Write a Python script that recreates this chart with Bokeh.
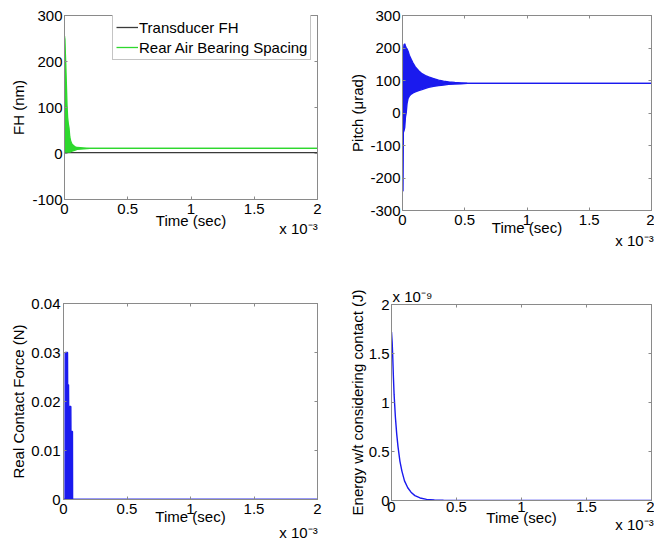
from bokeh.plotting import figure
from bokeh.layouts import column, row
from bokeh.models import (Range1d, FixedTicker, LinearAxis, Legend, LegendItem,
                          CustomJSTickFormatter)
from bokeh.embed import file_html
from bokeh.resources import INLINE

FONT = "Liberation Sans"
AX = "#8a8a8a"
BLUE = "#1a1aee"
GREEN = "#2ed82e"
DARK = "#3a3a3a"

# ---------------- data (time in units of 1e-3 s) ----------------
time_ticks = [0, 0.5, 1, 1.5, 2]
time_tick_labels = ["0", "0.5", "1", "1.5", "2"]
time_multiplier = "x 10\u207b\u00b3"

fh_ticks = [-100, 0, 100, 200, 300]
fh_tick_labels = ["-100", "0", "100", "200", "300"]
transducer_time = [0.0, 0.5, 1.0, 1.5, 2.0]
transducer_fh = [2, 2, 2, 2, 2]
rear_time = [0.000, 0.003, 0.006, 0.010, 0.015, 0.020, 0.025, 0.030, 0.036, 0.042,
             0.050, 0.060, 0.080, 0.100, 0.150, 0.200, 0.500, 1.000, 1.500, 2.000]
rear_upper = [255, 248, 225, 195, 150, 105, 78, 65, 55, 36,
              26, 20, 15, 13, 12, 11, 11, 11, 11, 11]
rear_lower = [250, 6, 3, 3, 3, 3, 3, 3, 3, 3,
              4, 5, 7, 9, 10, 11, 11, 11, 11, 11]

pitch_ticks = [-300, -200, -100, 0, 100, 200, 300]
pitch_tick_labels = ["-300", "-200", "-100", "0", "100", "200", "300"]
pitch_time = [0.000, 0.002, 0.004, 0.007, 0.012, 0.018, 0.024, 0.030, 0.037, 0.045,
              0.055, 0.070, 0.085, 0.103, 0.130, 0.156, 0.185, 0.210, 0.250, 0.290,
              0.330, 0.370, 0.420, 0.470, 0.520, 1.000, 1.500, 2.000]
pitch_upper = [70, 70, 120, 190, 210, 213, 206, 200, 197, 190,
               178, 165, 154, 142, 130, 121, 115, 111, 106, 101,
               98, 96, 94, 93, 92, 91, 91, 91]
pitch_lower = [70, -240, -240, -60, -55, -45, -12, 0, 30, 45,
               52, 58, 62, 65, 69, 72, 76, 79, 82, 84,
               86, 88, 89, 90, 91, 91, 91, 91]

force_ticks = [0, 0.01, 0.02, 0.03, 0.04]
force_tick_labels = ["0", "0.01", "0.02", "0.03", "0.04"]
force_time = [0.000, 0.012, 0.013, 0.032, 0.033, 0.040, 0.041, 0.058, 0.059, 0.071, 0.072, 2.000]
force_upper = [0, 0, 0.0300, 0.0300, 0.0234, 0.0234, 0.0190, 0.0190, 0.0139, 0.0139, 0, 0]
force_lower = [0, 0, 0, 0, 0, 0, 0, 0, 0, 0, 0, 0]

# energy in units of 1e-9 J
energy_ticks = [0, 0.5, 1, 1.5, 2]
energy_tick_labels = ["0", "0.5", "1", "1.5", "2"]
energy_multiplier = "x 10\u207b\u2079"
energy_time = [0.000, 0.005, 0.010, 0.015, 0.020, 0.030, 0.040, 0.050, 0.065, 0.080,
               0.100, 0.125, 0.150, 0.180, 0.220, 0.270, 0.330, 0.400, 0.500, 1.000,
               1.500, 2.000]
energy = [1.72, 1.62, 1.45, 1.25, 1.08, 0.85, 0.68, 0.55, 0.40, 0.30,
          0.20, 0.13, 0.085, 0.050, 0.026, 0.012, 0.005, 0.002, 0.0, 0.0,
          0.0, 0.0]


def style_axis(ax, ticks, labels, show_labels=True, standoff=2):
    ax.ticker = FixedTicker(ticks=ticks, minor_ticks=[])
    ax.major_tick_in = 3
    ax.major_tick_out = 0
    ax.minor_tick_in = 0
    ax.minor_tick_out = 0
    ax.axis_line_color = AX
    ax.major_tick_line_color = AX
    ax.major_label_text_font = FONT
    ax.major_label_text_color = "black"
    ax.major_label_standoff = standoff
    ax.axis_label_text_font = FONT
    ax.axis_label_text_font_style = "normal"
    ax.axis_label_text_font_size = "15px"
    ax.axis_label_text_color = "black"
    if show_labels:
        ax.major_label_overrides = {t: l for t, l in zip(ticks, labels)}
        ax.major_label_text_font_size = "15px"
    else:
        ax.major_label_overrides = {t: "" for t in ticks}
        ax.major_label_text_font_size = "0px"
        ax.major_label_standoff = 0


def make_fig(w, h, left, right, top, bottom, yr, yticks, ylabels, ylabel,
             x_std, x_lab_std, y_std, y_lab_std):
    p = figure(width=w, height=h, x_range=Range1d(0, 2), y_range=Range1d(*yr),
               min_border_left=left, min_border_right=right,
               min_border_top=top, min_border_bottom=bottom,
               output_backend="svg", toolbar_location=None,
               background_fill_color="white", border_fill_color="white",
               outline_line_color=AX, outline_line_width=1)
    p.xgrid.visible = False
    p.ygrid.visible = False
    style_axis(p.xaxis[0], time_ticks, time_tick_labels, True, x_std)
    p.xaxis[0].axis_label = "Time (sec)"
    p.xaxis[0].axis_label_standoff = x_lab_std
    style_axis(p.yaxis[0], yticks, ylabels, True, y_std)
    p.yaxis[0].axis_label = ylabel
    p.yaxis[0].axis_label_standoff = y_lab_std
    top_ax = LinearAxis()
    style_axis(top_ax, time_ticks, time_tick_labels, False)
    p.add_layout(top_ax, "above")
    right_ax = LinearAxis()
    style_axis(right_ax, yticks, ylabels, False)
    p.add_layout(right_ax, "right")
    return p


def multiplier_axis(p, side, text, frame_w, px_from_edge, standoff, edge="right"):
    """An extra, line-less axis carrying the MATLAB-style 'x 10^n' multiplier text."""
    per_px = 2.0 / frame_w
    pos = 2.0 - px_from_edge * per_px if edge == "right" else 0.0 + px_from_edge * per_px
    ax = LinearAxis(ticker=FixedTicker(ticks=[pos], minor_ticks=[]),
                    formatter=CustomJSTickFormatter(args=dict(t=text), code="return t"),
                    axis_line_color=None, major_tick_line_color=None,
                    minor_tick_line_color=None, major_tick_in=0, major_tick_out=0,
                    minor_tick_in=0, minor_tick_out=0,
                    major_label_standoff=standoff, major_label_text_font=FONT,
                    major_label_text_font_size="15px", major_label_text_color="black")
    p.add_layout(ax, side)


# ---------------- FH panel ----------------
p1 = make_fig(330, 270, 64, 13, 15, 71, (-100, 300), fh_ticks, fh_tick_labels,
              "FH (nm)", 4, -5, 2, 2)
r_trans = p1.line(transducer_time, transducer_fh, line_color=DARK, line_width=1.3)
p1.varea(x=rear_time, y1=rear_lower, y2=rear_upper, fill_color=GREEN)
r_rear = p1.line(rear_time, rear_upper, line_color=GREEN, line_width=1.3)
p1.line(rear_time, rear_lower, line_color=GREEN, line_width=1.3)
leg = Legend(items=[LegendItem(label="Transducer FH", renderers=[r_trans]),
                    LegendItem(label="Rear Air Bearing Spacing", renderers=[r_rear])],
             location=(48, 139), label_text_font=FONT, label_text_font_size="15px",
             label_text_color="black", glyph_width=22, glyph_height=18,
             label_height=18, label_standoff=1, padding=3, spacing=2, margin=0,
             border_line_color=AX, background_fill_color="white",
             background_fill_alpha=1)
p1.add_layout(leg)
multiplier_axis(p1, "below", time_multiplier, 253, 19, -12)

# ---------------- Pitch panel ----------------
p2 = make_fig(324, 270, 72, 3, 15, 60, (-300, 300), pitch_ticks, pitch_tick_labels,
              "Pitch (\u03bcrad)", 4, -9, 2, 1)
p2.varea(x=pitch_time, y1=pitch_lower, y2=pitch_upper, fill_color=BLUE)
p2.line(pitch_time, pitch_upper, line_color=BLUE, line_width=1.3)
p2.line(pitch_time, pitch_lower, line_color=BLUE, line_width=1.3)
multiplier_axis(p2, "below", time_multiplier, 249, 17, -7)

# ---------------- Contact force panel ----------------
p3 = make_fig(330, 273, 63, 13, 33, 44, (0, 0.04), force_ticks, force_tick_labels,
              "Real Contact Force (N)", 4, -9, 3, 1)
p3.varea(x=force_time, y1=force_lower, y2=force_upper, fill_color=BLUE)
p3.line(force_time, force_upper, line_color=BLUE, line_width=1.3)
p3.line(force_time, force_lower, line_color=BLUE, line_width=1.3)
multiplier_axis(p3, "below", time_multiplier, 254, 19, -4)

# ---------------- Energy panel ----------------
p4 = make_fig(324, 273, 61, 3, 34, 43, (0, 2), energy_ticks, energy_tick_labels,
              "Energy w/t considering contact (J)", 1, -6, 2, 0)
p4.line(energy_time, energy, line_color=BLUE, line_width=1.4)
multiplier_axis(p4, "below", time_multiplier, 260, 17, -13)
multiplier_axis(p4, "above", energy_multiplier, 260, 21, 0, edge="left")

layout = column(row(column(p1), column(p2), spacing=0),
                row(column(p3), column(p4), spacing=0), spacing=0)

open("out.html", "w").write(file_html(layout, INLINE))
